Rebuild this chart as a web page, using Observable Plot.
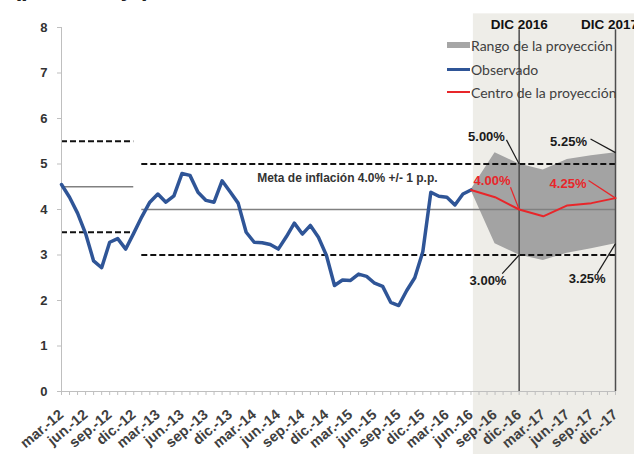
<!DOCTYPE html>
<html><head><meta charset="utf-8">
<script src="https://cdn.jsdelivr.net/npm/d3@7"></script>
<script src="https://cdn.jsdelivr.net/npm/@observablehq/plot@0.6"></script>
<style>
body{margin:0;background:#fff;}
#wrap{position:relative;width:634px;height:454px;overflow:hidden;font-family:"Liberation Sans",Arial,sans-serif;}
#title{position:absolute;left:13px;top:-24px;font-size:24px;line-height:24px;font-weight:bold;color:#222;white-space:nowrap;}
.leg{position:absolute;left:447px;font-family:Lato,sans-serif;font-size:14px;color:#404040;height:20px;display:flex;align-items:center;white-space:nowrap;}
.sw{display:inline-block;width:23px;margin-right:1px;}
</style></head><body>
<div id="wrap">
<div id="chart"></div>
<div id="title">(porcentaje)</div>
<div class="leg" style="top:35px"><span class="sw" style="height:6px;background:#a6a6a6"></span>Rango de la proyección</div>
<div class="leg" style="top:59px"><span class="sw" style="height:3px;background:#2f5597"></span>Observado</div>
<div class="leg" style="top:82px"><span class="sw" style="height:2px;background:#e8262a"></span>Centro de la proyección</div>
</div>
<script>
// Quarterly tick labels (every 3 months from mar-12)
const tickLabels = ["mar.-12","jun.-12","sep.-12","dic.-12","mar.-13","jun.-13","sep.-13","dic.-13",
  "mar.-14","jun.-14","sep.-14","dic.-14","mar.-15","jun.-15","sep.-15","dic.-15",
  "mar.-16","jun.-16","sep.-16","dic.-16","mar.-17","jun.-17","sep.-17","dic.-17"];
// Observed monthly inflation, mar-12 .. jun-16
const observed = [4.55,4.27,3.92,3.47,2.87,2.72,3.28,3.36,3.13,3.48,
  3.84,4.16,4.34,4.16,4.30,4.79,4.75,4.38,4.20,4.16,
  4.63,4.39,4.14,3.50,3.28,3.27,3.23,3.13,3.40,3.70,
  3.46,3.65,3.39,2.99,2.33,2.45,2.44,2.58,2.53,2.38,
  2.31,1.96,1.89,2.22,2.50,3.07,4.38,4.29,4.27,4.10,
  4.34,4.43];
// Projection, quarterly from jun-16 to dic-17
const projCenter = [4.43,4.27,4.00,3.85,4.09,4.14,4.25];
const projLow    = [4.43,3.25,3.00,2.88,3.04,3.14,3.25];
const projHigh   = [4.43,5.25,5.00,4.87,5.10,5.18,5.25];
const projStart = 51; // month index of jun-16
// Inflation targets
const targetFrom = [0, 10], targetTo = [9, 69], targetCenter = [4.5, 4.0];
const tolerance = 1;
// Year-end markers
const markerIdx = [57, 69], markerLabels = ["DIC 2016","DIC 2017"];
// Annotations
const annText  = ["5.00%","3.00%","5.25%","3.25%","4.00%","4.25%"];
const annValue = [5.00, 3.00, 5.25, 3.25, 4.00, 4.25];
const annIdx   = [57, 57, 69, 69, 57, 69];
const annColor = ["#1a1a1a","#1a1a1a","#1a1a1a","#1a1a1a","#e8262a","#e8262a"];
const annLabelPos = [[52.93,5.60],[53.12,2.44],[63.15,5.48],[65.48,2.48],[53.62,4.62],[63.09,4.56]];
const annLeadPos  = [[55.42,5.53],[54.89,2.59],[65.89,5.55],[66.72,2.59],[55.92,4.49],[65.64,4.64]];
const metaText = "Meta de inflación 4.0% +/- 1 p.p.";
const metaPos = [24.37, 4.69];

const obsData = observed.map((v,i)=>({m:i, v}));
const projData = projCenter.map((v,i)=>({m:projStart+3*i, v, lo:projLow[i], hi:projHigh[i]}));
const targets = targetFrom.map((f,i)=>({x1:f, x2:targetTo[i], c:targetCenter[i]}));
const bands = targets.flatMap(t=>[{x1:t.x1,x2:t.x2,y:t.c+tolerance},{x1:t.x1,x2:t.x2,y:t.c-tolerance}]);
const markers = markerIdx.map((m,i)=>({m, label:markerLabels[i]}));
const anns = annText.map((t,i)=>({t, color:annColor[i], px:annIdx[i], py:annValue[i],
  lx:annLabelPos[i][0], ly:annLabelPos[i][1], sx:annLeadPos[i][0], sy:annLeadPos[i][1]}));
const shade = [{x1: projStart+0.3, x2: 71.5, y1: -1.4, y2: 8.3}];
const months = d3.range(0, 70);
const quarters = d3.range(0, 70, 3);

const chart = Plot.plot({
  width: 634, height: 454,
  marginLeft: 61, marginRight: 19, marginTop: 27, marginBottom: 63,
  style: {fontFamily: '"Liberation Sans", Arial, sans-serif', background: "transparent", overflow: "visible"},
  x: {type: "linear", domain: [0, 69]},
  y: {domain: [0, 8]},
  marks: [
    Plot.rect(shade, {x1:"x1", x2:"x2", y1:"y1", y2:"y2", fill:"#eeede8"}),
    Plot.areaY(projData, {x:"m", y1:"lo", y2:"hi", fill:"#a3a3a3"}),
    Plot.ruleY(targets, {y:"c", x1:"x1", x2:"x2", stroke:"#808080", strokeWidth:1.5}),
    Plot.ruleY(bands, {y:"y", x1:"x1", x2:"x2", stroke:"#111", strokeWidth:2, strokeDasharray:"6,3"}),
    Plot.ruleX(markers, {x:"m", y1:0, y2:7.95, stroke:"#4d4d4d", strokeWidth:1.5}),
    Plot.ruleX([0], {stroke:"#bfbfbf"}),
    Plot.ruleY([0], {stroke:"#bfbfbf"}),
    Plot.axisY({ticks: d3.range(0,9), tickSize: 4, tickPadding: 10, stroke:"#bfbfbf", fill:"#333",
      fontWeight:"bold", fontSize:13, label:null}),
    Plot.axisX({ticks: months, tickSize: 4, tickFormat: () => "", stroke:"#bfbfbf", label:null}),
    Plot.axisX({ticks: quarters, tickSize: 0, tickPadding: 21, tickRotate: -40, tickFormat: i => tickLabels[i/3],
      fill:"#404040", fontWeight:"bold", fontSize:14.5, label:null}),
    Plot.line(obsData, {x:"m", y:"v", stroke:"#2f5597", strokeWidth:3.5, strokeLinejoin:"round"}),
    Plot.line(projData, {x:"m", y:"v", stroke:"#e8262a", strokeWidth:2}),
    Plot.link(anns, {x1:"sx", y1:"sy", x2:"px", y2:"py", stroke:"color", strokeWidth:1.2}),
    Plot.text(anns, {x:"lx", y:"ly", text:"t", fill:"color", fontWeight:"bold", fontSize:13}),
    Plot.text([metaText], {x: metaPos[0], y: metaPos[1], text: d=>d, textAnchor:"start", fill:"#333", fontWeight:"bold", fontSize:12}),
    Plot.text(markers.slice(0,1), {x:"m", y:8, text:"label", dy:-2.5, fill:"#111", fontWeight:"bold", fontSize:13.5}),
    Plot.text(markers.slice(1), {x:"m", y:8, text:"label", dy:-2.5, dx:-6, fill:"#111", fontWeight:"bold", fontSize:13.5})
  ]
});
document.getElementById("chart").append(chart);
</script>
</body></html>
